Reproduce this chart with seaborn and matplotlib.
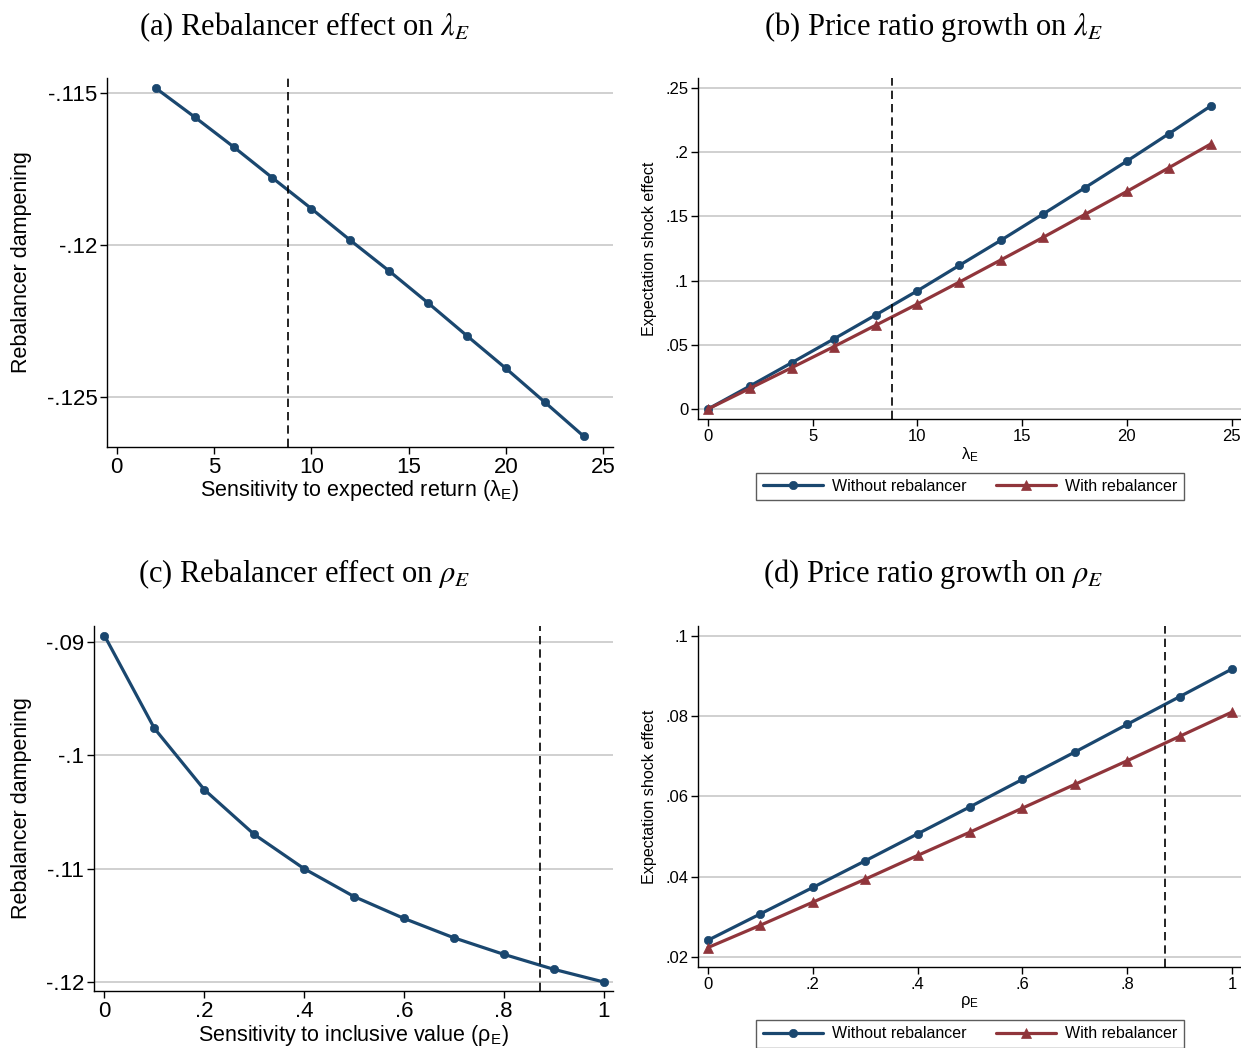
import matplotlib
matplotlib.use("Agg")
import matplotlib.pyplot as plt
import seaborn as sns
import pandas as pd
import numpy as np

sns.set_style("white")
plt.rcParams['font.family'] = ['Liberation Sans', 'DejaVu Sans']
plt.rcParams['mathtext.fontset'] = 'stix'
plt.rcParams['text.color'] = 'black'
plt.rcParams['axes.labelcolor'] = 'black'
plt.rcParams['xtick.color'] = 'black'
plt.rcParams['ytick.color'] = 'black'

# ---------------- data ----------------
lam_a = [2, 4, 6, 8, 10, 12, 14, 16, 18, 20, 22, 24]
damp_a = [-.11484, -.11579, -.11677, -.11779, -.1188, -.11984, -.12085,
          -.1219, -.12298, -.12405, -.12516, -.12628]

lam_b = [0, 2, 4, 6, 8, 10, 12, 14, 16, 18, 20, 22, 24]
without_b = [0, .0179, .0361, .0545, .0732, .0921, .1119, .1316, .1519,
             .1724, .1931, .2144, .2360]
with_b = [0, .0161, .0322, .0485, .0652, .0818, .0989, .1163, .1337,
          .1516, .1695, .1879, .2064]

rho = [0, .1, .2, .3, .4, .5, .6, .7, .8, .9, 1.0]
damp_c = [-.08942, -.09761, -.10302, -.10697, -.11, -.11246, -.11439,
          -.1161, -.11756, -.11888, -.12]
without_d = [.02416, .03072, .0373, .04393, .05065, .05738, .06421,
             .07101, .07792, .0848, .0917]
with_d = [.02234, .0279, .03363, .03936, .04527, .05108, .05706,
          .06296, .06885, .07493, .08098]

vline_lam = 8.8
vline_rho = 0.872

a_yticks = [-.115, -.12, -.125]
a_yticklabels = ['-.115', '-.12', '-.125']
a_xticks = [0, 5, 10, 15, 20, 25]
b_yticks = [0, .05, .1, .15, .2, .25]
b_yticklabels = ['0', '.05', '.1', '.15', '.2', '.25']
c_yticks = [-.09, -.1, -.11, -.12]
c_yticklabels = ['-.09', '-.1', '-.11', '-.12']
c_xticks = [0, .2, .4, .6, .8, 1]
c_xticklabels = ['0', '.2', '.4', '.6', '.8', '1']
d_yticks = [.02, .04, .06, .08, .1]
d_yticklabels = ['.02', '.04', '.06', '.08', '.1']

titles = [r'(a) Rebalancer effect on $\lambda_E$',
          r'(b) Price ratio growth on $\lambda_E$',
          r'(c) Rebalancer effect on $\rho_E$',
          r'(d) Price ratio growth on $\rho_E$']
series_names = ['Without rebalancer', 'With rebalancer']

BLUE = '#1a476f'
RED = '#90353b'
GRID = '#c8c8c8'

BIG_TICK = 16
BIG_LAB = 15.5
SM_TICK = 12
SM_LAB = 11.6

W, H = 1241, 1048
fig = plt.figure(figsize=(W / 100, H / 100), dpi=100)


def px_axes(l, r, t, b):
    return fig.add_axes([l / W, 1 - b / H, (r - l) / W, (b - t) / H])


axA = px_axes(107, 613, 78, 447)
axB = px_axes(698, 1242, 78, 419)
axC = px_axes(94, 613, 626, 991)
axD = px_axes(698, 1242, 626, 967)


def style(ax, big):
    for s in ['top', 'right']:
        ax.spines[s].set_visible(False)
    for s in ['left', 'bottom']:
        ax.spines[s].set_color('black')
        ax.spines[s].set_linewidth(1.0)
    fs = BIG_TICK if big else SM_TICK
    ax.tick_params(axis='both', which='both', direction='out', length=5,
                   width=1, color='black', labelcolor='black', labelsize=fs,
                   pad=2, left=True, bottom=True)
    ax.grid(axis='y', color=GRID, lw=1.2)
    ax.grid(axis='x', visible=False)
    ax.set_axisbelow(True)


def line(ax, x, y, color, marker, label, ms):
    df = pd.DataFrame({'x': x, 'y': y})
    sns.lineplot(data=df, x='x', y='y', ax=ax, color=color, lw=2.3,
                 marker=marker, markersize=ms, markeredgecolor=color,
                 markeredgewidth=0.5, label=label, legend=False)


DASH = (0, (5, 3))

# (a)
line(axA, lam_a, damp_a, BLUE, 'o', series_names[0], 6)
axA.axvline(vline_lam, color='black', lw=1.2, ls=DASH)
axA.set_xlim(-0.5, 25.5)
axA.set_ylim(-.12663, -.11451)
axA.set_yticks(a_yticks, a_yticklabels)
axA.set_xticks(a_xticks, [str(v) for v in a_xticks])
style(axA, True)
axA.set_ylabel('Rebalancer dampening', fontsize=BIG_LAB)
axA.set_xlabel(r'Sensitivity to expected return (λ$_\mathregular{E}$)', fontsize=BIG_LAB)
axA.yaxis.set_label_coords(-0.168, 0.5)
axA.xaxis.set_label_coords(0.5, -0.118)
axA.xaxis.label.set_va('center')
axA.yaxis.label.set_va('center')

# (b)
line(axB, lam_b, without_b, BLUE, 'o', series_names[0], 6)
line(axB, lam_b, with_b, RED, '^', series_names[1], 6.5)
axB.axvline(vline_lam, color='black', lw=1.2, ls=DASH)
axB.set_xlim(-0.48, 25.5)
axB.set_ylim(-.0078, .2579)
axB.set_yticks(b_yticks, b_yticklabels)
axB.set_xticks(a_xticks, [str(v) for v in a_xticks])
style(axB, False)
axB.set_ylabel('Expectation shock effect', fontsize=SM_LAB)
axB.set_xlabel(r'λ$_\mathregular{E}$', fontsize=SM_TICK)
axB.yaxis.set_label_coords(-0.090, 0.5)
axB.xaxis.set_label_coords(0.5, -0.1056)
axB.xaxis.label.set_va('center')
axB.yaxis.label.set_va('center')

# (c)
line(axC, rho, damp_c, BLUE, 'o', series_names[0], 6)
axC.axvline(vline_rho, color='black', lw=1.2, ls=DASH)
axC.set_xlim(-0.021, 1.019)
axC.set_ylim(-.12080, -.08857)
axC.set_yticks(c_yticks, c_yticklabels)
axC.set_xticks(c_xticks, c_xticklabels)
style(axC, True)
axC.set_ylabel('Rebalancer dampening', fontsize=BIG_LAB)
axC.set_xlabel(r'Sensitivity to inclusive value (ρ$_\mathregular{E}$)', fontsize=BIG_LAB)
axC.yaxis.set_label_coords(-0.139, 0.5)
axC.xaxis.set_label_coords(0.5, (991 - 1048) / 365.0)
axC.xaxis.label.set_va('bottom')
axC.yaxis.label.set_va('center')

# (d)
line(axD, rho, without_d, BLUE, 'o', series_names[0], 6)
line(axD, rho, with_d, RED, '^', series_names[1], 6.5)
axD.axvline(vline_rho, color='black', lw=1.2, ls=DASH)
axD.set_xlim(-0.019, 1.019)
axD.set_ylim(.0175, .1024)
axD.set_yticks(d_yticks, d_yticklabels)
axD.set_xticks(c_xticks, c_xticklabels)
style(axD, False)
axD.set_ylabel('Expectation shock effect', fontsize=SM_LAB)
axD.set_xlabel(r'ρ$_\mathregular{E}$', fontsize=SM_TICK)
axD.yaxis.set_label_coords(-0.090, 0.5)
axD.xaxis.set_label_coords(0.5, -0.1026)
axD.xaxis.label.set_va('center')
axD.yaxis.label.set_va('center')

for ax, yy in [(axB, -0.198), (axD, -0.196)]:
    leg = ax.legend(loc='center', bbox_to_anchor=(0.5, yy), ncol=2,
                    frameon=True, fancybox=False, fontsize=11.5,
                    handlelength=3.8, columnspacing=1.8, handletextpad=0.55,
                    borderpad=0.4, borderaxespad=0)
    leg.get_frame().set_edgecolor('#333333')
    leg.get_frame().set_linewidth(1.0)
    for t in leg.get_texts():
        t.set_color('black')

# titles
tfont = dict(family=['Liberation Serif', 'DejaVu Serif'], fontsize=22,
             ha='center', va='center', color='black')
fig.text(304 / W, 1 - 27 / H, titles[0], **tfont)
fig.text(933 / W, 1 - 27 / H, titles[1], **tfont)
fig.text(304 / W, 1 - 574 / H, titles[2], **tfont)
fig.text(933 / W, 1 - 574 / H, titles[3], **tfont)

fig.savefig('out.png', dpi=100)
